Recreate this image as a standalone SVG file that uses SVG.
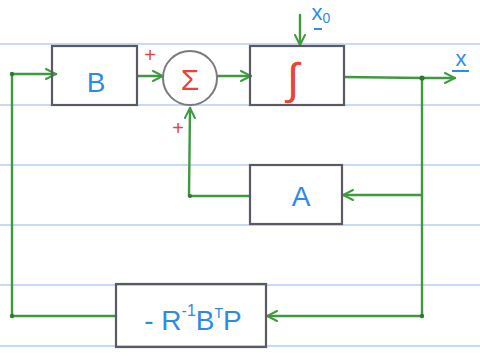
<svg xmlns="http://www.w3.org/2000/svg" width="480" height="356" viewBox="0 0 480 356">
<defs>
<style>
.rule{stroke:#8fb4ea;stroke-width:1.2}
.box{fill:none;stroke:#5a5a66;stroke-width:2.2}
.wire{fill:none;stroke:#3f9a3f;stroke-width:2.4;stroke-linecap:round;stroke-linejoin:round}
.blue{fill:#2f8ae6;font-family:"Liberation Sans",Arial,sans-serif}
.red{fill:#ea4438;font-family:"Liberation Sans",Arial,sans-serif}
.dot{fill:#2f7a2f}
</style>
<marker id="arr" viewBox="0 0 12 12" refX="11" refY="6" markerWidth="12" markerHeight="12" markerUnits="userSpaceOnUse" orient="auto">
<path d="M1,1 L11,6 L1,11" fill="none" stroke="#3f9a3f" stroke-width="2" stroke-linecap="round"/>
</marker>
</defs>
<rect width="480" height="356" fill="#ffffff"/>
<g id="rules">
<line class="rule" x1="0" y1="44" x2="480" y2="44"/>
<line class="rule" x1="0" y1="105" x2="480" y2="105"/>
<line class="rule" x1="0" y1="165" x2="480" y2="165"/>
<line class="rule" x1="0" y1="225" x2="480" y2="225"/>
<line class="rule" x1="0" y1="285" x2="480" y2="285"/>
<line class="rule" x1="0" y1="346" x2="480" y2="346"/>
</g>
<g id="connectors">
<path class="wire" d="M12,74 L56,74" marker-end="url(#arr)"/>
<path class="wire" d="M137,76 L163,76" marker-end="url(#arr)"/>
<path class="wire" d="M217,76 L251,76" marker-end="url(#arr)"/>
<path class="wire" d="M300,15 L300,45" marker-end="url(#arr)"/>
<path class="wire" d="M344,77 L422,78 L455,78" marker-end="url(#arr)"/>
<path class="wire" d="M422,78 L422,316"/>
<path class="wire" d="M422,195 L343,195" marker-end="url(#arr)"/>
<path class="wire" d="M250,196 L189,196 L190,108" marker-end="url(#arr)"/>
<path class="wire" d="M422,316 L267,316" marker-end="url(#arr)"/>
<path class="wire" d="M116,316 L12,316 L12,74"/>
<circle class="dot" cx="12" cy="74" r="2.2"/>
<circle class="dot" cx="12" cy="316" r="2.2"/>
<circle class="dot" cx="422" cy="78" r="2.6"/>
<circle class="dot" cx="422" cy="316" r="2.2"/>
<circle class="dot" cx="190" cy="196" r="2"/>
</g>
<g id="B">
<rect class="box" x="52" y="46" width="85" height="59"/>
<text class="blue" x="96" y="92" font-size="28" text-anchor="middle">B</text>
</g>
<g id="sum">
<circle cx="190" cy="78" r="27" fill="#ffffff" stroke="#7a7a82" stroke-width="2"/>
<text class="red" x="190" y="90" font-size="30" text-anchor="middle">Σ</text>
<text class="red" x="150" y="62" font-size="20" text-anchor="middle">+</text>
<text class="red" x="178" y="135" font-size="20" text-anchor="middle">+</text>
</g>
<g id="integrator">
<rect class="box" x="250" y="46" width="94" height="59"/>
<text class="red" x="293" y="94" font-size="44" text-anchor="middle">∫</text>
<text class="blue" x="321" y="20" font-size="22" text-anchor="middle">x<tspan font-size="14" dy="3">0</tspan></text>
<line x1="314" y1="29" x2="322" y2="29" stroke="#2f8ae6" stroke-width="2"/>
</g>
<g id="output">
<text class="blue" x="461" y="66" font-size="22" text-anchor="middle">x</text>
<line x1="452" y1="71" x2="469" y2="71" stroke="#2f8ae6" stroke-width="2"/>
</g>
<g id="A">
<rect class="box" x="250" y="165" width="92" height="59"/>
<text class="blue" x="301" y="206" font-size="28" text-anchor="middle">A</text>
</g>
<g id="gain">
<rect class="box" x="116" y="284" width="150" height="63"/>
<text class="blue" x="193" y="330" font-size="28" text-anchor="middle">- R<tspan font-size="16" dy="-14">-1</tspan><tspan dy="14">B</tspan><tspan font-size="14" dy="-12">T</tspan><tspan dy="12">P</tspan></text>
</g>
</svg>
